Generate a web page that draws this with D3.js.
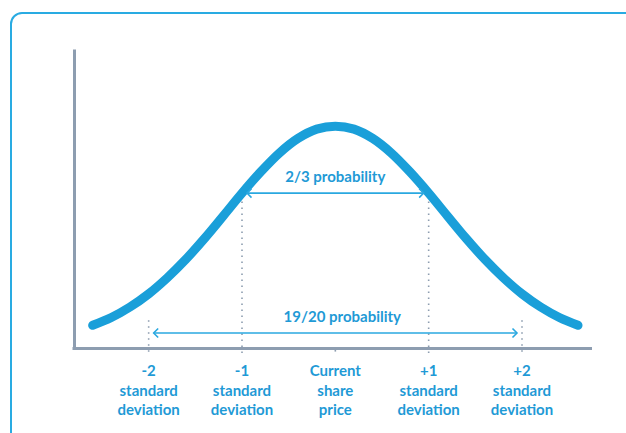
<!DOCTYPE html>
<html lang="en">
<head>
    <meta charset="UTF-8">
    <title>Normal distribution</title>
    <script src="https://cdn.jsdelivr.net/npm/d3@7"></script>
    <style>
        body { margin: 0; background: #fff; }
        text { font-family: Lato, "Open Sans", sans-serif; font-weight: 700; }
    </style>
</head>
<body>
    <script>
        // bell curve: x in standard deviations, y relative height
        var curveX = [-2.6, -2.4, -2.2, -2.0, -1.8, -1.6, -1.4, -1.2, -1.0, -0.8, -0.6, -0.4, -0.2, 0,
                      0.2, 0.4, 0.6, 0.8, 1.0, 1.2, 1.4, 1.6, 1.8, 2.0, 2.2, 2.4, 2.6];
        var curveY = [0.076, 0.102, 0.137, 0.181, 0.235, 0.297, 0.367, 0.442, 0.518, 0.589, 0.652, 0.701, 0.732, 0.742,
                      0.732, 0.701, 0.652, 0.589, 0.518, 0.442, 0.367, 0.297, 0.235, 0.181, 0.137, 0.102, 0.076];

        // x positions on the axis and their labels
        var tickValues = [-2, -1, 0, 1, 2];
        var tickLabels = [
            ["-2", "standard", "deviation"],
            ["-1", "standard", "deviation"],
            ["Current", "share", "price"],
            ["+1", "standard", "deviation"],
            ["+2", "standard", "deviation"]
        ];
        var guideTops = [0.093, 0.49, null, 0.49, 0.093];   // where the dotted guides start

        // probability ranges
        var rangeLabels = ["2/3 probability", "19/20 probability"];
        var rangeFrom = [-1, -2];
        var rangeTo = [1, 2];
        var rangeLevel = [0.518, 0.05];

        var width = 626, height = 433;
        var blue = "#1a9fd9", textBlue = "#1f9ad6", arrowBlue = "#2aa8e0", grey = "#8d9db0";

        var svg = d3.select("body").append("svg")
                .attr("width", width).attr("height", height);

        // frame
        svg.append("rect")
                .attr("x", 11).attr("y", 13)
                .attr("width", 640).attr("height", 460)
                .attr("rx", 11)
                .attr("fill", "none").attr("stroke", "#29abe2").attr("stroke-width", 2);

        var x = d3.scaleLinear().domain([-2.8, 2.75]).range([74, 592]);
        var y = d3.scaleLinear().domain([0, 1]).range([348, 49]);

        // dotted guides (drawn first so the axis sits on top)
        svg.append("g").selectAll("line")
                .data(tickValues)
                .enter().append("line")
                .attr("x1", function(d){ return x(d); })
                .attr("x2", function(d){ return x(d); })
                .attr("y1", function(d, i){ return guideTops[i] === null ? 350 : y(guideTops[i]); })
                .attr("y2", 355)
                .attr("stroke", grey).attr("stroke-width", 1.6)
                .attr("stroke-dasharray", "1.6,4.4");

        // axes, no ticks
        var xAxis = svg.append("g").attr("transform", "translate(0," + y(0) + ")")
                .call(d3.axisBottom(x).tickValues([]).tickSizeOuter(0));
        var yAxis = svg.append("g").attr("transform", "translate(" + x(-2.8) + ",0)")
                .call(d3.axisLeft(y).tickValues([]).tickSizeOuter(0));
        svg.selectAll(".domain").attr("stroke", grey).attr("stroke-width", 3);
        xAxis.select(".domain").attr("d", "M" + (x(-2.8) - 1.5) + ",0.5H592");

        // curve
        var line = d3.line()
                .x(function(d){ return x(d); })
                .y(function(d, i){ return y(curveY[i]); })
                .curve(d3.curveCatmullRom);
        svg.append("path")
                .attr("d", line(curveX))
                .attr("fill", "none").attr("stroke", blue)
                .attr("stroke-width", 9).attr("stroke-linecap", "round");

        // arrow heads
        var defs = svg.append("defs");
        defs.append("marker").attr("id", "head")
                .attr("viewBox", "-7 -7 14 14")
                .attr("refX", 0).attr("refY", 0)
                .attr("markerWidth", 14).attr("markerHeight", 14)
                .attr("markerUnits", "userSpaceOnUse")
                .attr("orient", "auto-start-reverse")
                .append("path")
                .attr("d", "M-4.5,-4.5L0,0L-4.5,4.5")
                .attr("fill", "none").attr("stroke", arrowBlue).attr("stroke-width", 1.6);

        var ranges = svg.append("g").selectAll("g")
                .data(rangeLabels)
                .enter().append("g");
        ranges.append("line")
                .attr("x1", function(d, i){ return x(rangeFrom[i]) + 5; })
                .attr("x2", function(d, i){ return x(rangeTo[i]) - 5; })
                .attr("y1", function(d, i){ return y(rangeLevel[i]); })
                .attr("y2", function(d, i){ return y(rangeLevel[i]); })
                .attr("stroke", arrowBlue).attr("stroke-width", 1.6)
                .attr("marker-start", "url(#head)").attr("marker-end", "url(#head)");
        ranges.append("text")
                .attr("x", function(d, i){ return (x(rangeFrom[i]) + x(rangeTo[i])) / 2 + (i === 1 ? 7 : 0); })
                .attr("y", function(d, i){ return y(rangeLevel[i]) - 11; })
                .attr("text-anchor", "middle")
                .attr("font-size", "15px")
                .attr("fill", textBlue)
                .text(function(d){ return d; });

        // labels under the axis
        var labels = svg.append("g").selectAll("text")
                .data(tickLabels)
                .enter().append("text")
                .attr("x", function(d, i){ return x(tickValues[i]); })
                .attr("y", 376)
                .attr("text-anchor", "middle")
                .attr("font-size", "15px")
                .attr("fill", textBlue);
        labels.selectAll("tspan")
                .data(function(d){ return d; })
                .enter().append("tspan")
                .attr("x", function(){ return this.parentNode.getAttribute("x"); })
                .attr("dy", function(d, i){ return i === 0 ? 0 : 19.5; })
                .text(function(d){ return d; });
    </script>
</body>
</html>
